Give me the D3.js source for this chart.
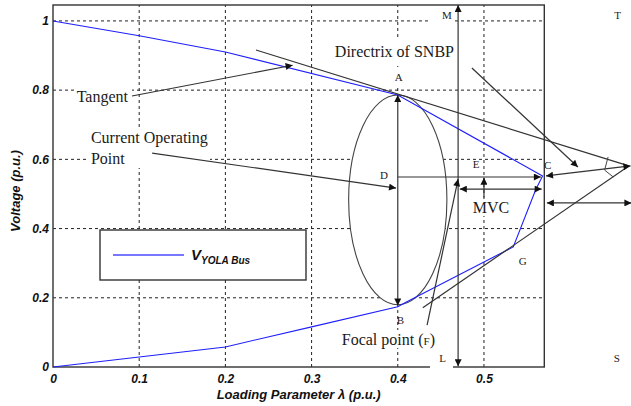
<!DOCTYPE html>
<html>
<head>
<meta charset="utf-8">
<script src="https://cdn.jsdelivr.net/npm/d3@7"></script>
<style>
  body { margin: 0; background: #fff; }
  .serif { font-family: "Liberation Serif", "Times New Roman", serif; fill: #1a1a1a; }
  .tick text { font-family: "Liberation Sans", Arial, sans-serif; font-size: 12px; font-weight: bold; font-style: italic; fill: #111; }
</style>
</head>
<body>
<div class="canvas"></div>
<script>
// PV curve of the YOLA bus (nose curve, upper branch then lower branch)
const lambda = [0, 0.1, 0.2, 0.4, 0.568, 0.56, 0.534, 0.41, 0.4, 0.3, 0.2, 0.1, 0];
const voltage = [1, 0.957, 0.91, 0.786, 0.552, 0.512, 0.347, 0.188, 0.174, 0.116, 0.058, 0.029, 0];

const xTicks = [0, 0.1, 0.2, 0.3, 0.4, 0.5];
const xTickLabels = ["0", "0.1", "0.2", "0.3", "0.4", "0.5"];
const yTicks = [0, 0.2, 0.4, 0.6, 0.8, 1];
const yTickLabels = ["0", "0.2", "0.4", "0.6", "0.8", "1"];

const dims = { width: 631, height: 406 };
const plot = { left: 53, right: 544.3, top: 5, bottom: 367 };

const svg = d3
  .select(".canvas")
  .append("svg")
  .attr("width", dims.width)
  .attr("height", dims.height);

const x = d3.scaleLinear().domain([0, 0.57]).range([plot.left, plot.right]);
const y = d3.scaleLinear().domain([0, 1.046]).range([plot.bottom, plot.top]);

// arrow head marker
svg
  .append("defs")
  .append("marker")
  .attr("id", "arrow")
  .attr("viewBox", "0 0 10 10")
  .attr("refX", 10)
  .attr("refY", 5)
  .attr("markerUnits", "userSpaceOnUse")
  .attr("markerWidth", 9)
  .attr("markerHeight", 7)
  .attr("orient", "auto-start-reverse")
  .append("path")
  .attr("d", "M0,0 L10,5 L0,10 z")
  .attr("fill", "#111");

// grid
const grid = svg.append("g").attr("stroke", "#222").attr("stroke-width", 1).attr("stroke-dasharray", "3,3");
grid
  .selectAll(".gx")
  .data(xTicks.slice(1))
  .enter()
  .append("line")
  .attr("x1", (d) => x(d))
  .attr("x2", (d) => x(d))
  .attr("y1", plot.bottom)
  .attr("y2", plot.top);
grid
  .selectAll(".gy")
  .data(yTicks.slice(1))
  .enter()
  .append("line")
  .attr("x1", plot.left)
  .attr("x2", plot.right)
  .attr("y1", (d) => y(d))
  .attr("y2", (d) => y(d));

// frame
svg
  .append("rect")
  .attr("x", plot.left)
  .attr("y", plot.top)
  .attr("width", plot.right - plot.left)
  .attr("height", plot.bottom - plot.top)
  .attr("fill", "none")
  .attr("stroke", "#333")
  .attr("stroke-width", 1.4);

// axes (labels only)
const xAxis = d3
  .axisBottom(x)
  .tickValues(xTicks)
  .tickSize(0)
  .tickPadding(7)
  .tickFormat((d, i) => xTickLabels[i]);
const yAxis = d3
  .axisLeft(y)
  .tickValues(yTicks)
  .tickSize(0)
  .tickPadding(4)
  .tickFormat((d, i) => yTickLabels[i]);

svg.append("g").attr("transform", `translate(0, ${plot.bottom})`).call(xAxis).call((g) => g.select(".domain").remove());
svg.append("g").attr("transform", `translate(${plot.left}, 0)`).call(yAxis).call((g) => g.select(".domain").remove());

svg
  .append("text")
  .attr("x", (plot.left + plot.right) / 2)
  .attr("y", 399)
  .attr("text-anchor", "middle")
  .attr("font-family", "Liberation Sans, Arial, sans-serif")
  .attr("font-size", 13)
  .attr("font-weight", "bold")
  .attr("font-style", "italic")
  .attr("fill", "#111")
  .text("Loading Parameter λ (p.u.)");

svg
  .append("text")
  .attr("transform", `translate(20, 191) rotate(-90)`)
  .attr("text-anchor", "middle")
  .attr("font-family", "Liberation Sans, Arial, sans-serif")
  .attr("font-size", 13)
  .attr("font-weight", "bold")
  .attr("font-style", "italic")
  .attr("fill", "#111")
  .text("Voltage (p.u.)");

// white boxes behind annotation texts (they hide the grid)
const boxes = [
  [74, 87, 58, 18],
  [86, 128, 124, 40],
  [330, 38, 126, 28],
  [390, 70, 18, 18],
  [430, 8, 24, 16],
  [430, 350, 23, 22],
  [468, 200, 44, 16],
  [338, 330, 96, 18],
];
svg
  .selectAll(".box")
  .data(boxes)
  .enter()
  .append("rect")
  .attr("x", (d) => d[0])
  .attr("y", (d) => d[1])
  .attr("width", (d) => d[2])
  .attr("height", (d) => d[3])
  .attr("fill", "#fff");

// ellipse round the A-B span
svg
  .append("ellipse")
  .attr("cx", x(0.4))
  .attr("cy", y(0.483))
  .attr("rx", x(0.457) - x(0.4))
  .attr("ry", y(0.18) - y(0.483))
  .attr("fill", "#fff")
  .attr("stroke", "#444")
  .attr("stroke-width", 1.1);

// the PV curve
const line = d3
  .line()
  .x((d, i) => x(lambda[i]))
  .y((d, i) => y(voltage[i]));

svg
  .append("path")
  .attr("d", line(lambda))
  .attr("fill", "none")
  .attr("stroke", "#1f1fff")
  .attr("stroke-width", 1.1);

// annotation lines: [x1, y1, x2, y2, arrow at start, arrow at end]
const apex = [0.668, 0.581];
const annotations = [
  [0.2355, 0.916, apex[0], apex[1], false, false], // tangent
  [apex[0], apex[1], 0.429, 0.171, false, false], // lower line through G
  [0.0916, 0.783, 0.278, 0.872, false, true], // tangent label
  [0.115, 0.618, 0.398, 0.517, false, true], // current operating point
  [0.486, 0.864, 0.609, 0.578, false, true], // directrix label
  [0.4, 0.786, 0.4, 0.178, true, true], // A-B
  [0.4, 0.549, 0.566, 0.549, false, true], // D-C
  [0.572, 0.552, apex[0] + 0.002, apex[1], true, true], // C-apex
  [0.47, 1.046, 0.47, 0.002, true, true], // M-L
  [0.434, 0.121, 0.47, 0.543, false, true], // focal point
  [0.5, 0.49, 0.5, 0.547, false, true], // E
  [0.472, 0.514, 0.567, 0.514, true, true], // MVC
  [0.573, 0.474, 0.671, 0.474, true, true], // right span
];

svg
  .append("g")
  .selectAll("line")
  .data(annotations)
  .enter()
  .append("line")
  .attr("x1", (d) => x(d[0]))
  .attr("y1", (d) => y(d[1]))
  .attr("x2", (d) => x(d[2]))
  .attr("y2", (d) => y(d[3]))
  .attr("stroke", "#333")
  .attr("stroke-width", 1.2)
  .attr("marker-start", (d) => (d[4] ? "url(#arrow)" : null))
  .attr("marker-end", (d) => (d[5] ? "url(#arrow)" : null));

// angle mark near the apex
const angleMark = [
  [0.644, 0.607],
  [0.64, 0.569],
  [0.65, 0.549],
];
svg
  .append("path")
  .attr("d", d3.line().x((d) => x(d[0])).y((d) => y(d[1]))(angleMark))
  .attr("fill", "none")
  .attr("stroke", "#444")
  .attr("stroke-width", 1);

// point letters
const letters = [
  ["A", 0.401, 0.838],
  ["B", 0.403, 0.136],
  ["C", 0.574, 0.584],
  ["D", 0.384, 0.555],
  ["E", 0.491, 0.587],
  ["G", 0.545, 0.306],
  ["M", 0.457, 1.017],
  ["L", 0.452, 0.026],
  ["T", 0.655, 1.017],
  ["S", 0.654, 0.026],
];
svg
  .selectAll(".letter")
  .data(letters)
  .enter()
  .append("text")
  .attr("class", "serif")
  .attr("x", (d) => x(d[1]))
  .attr("y", (d) => y(d[2]))
  .attr("dy", "0.35em")
  .attr("text-anchor", "middle")
  .attr("font-size", 11)
  .text((d) => d[0]);

// annotation texts
const notes = [
  ["Tangent", 0.0275, 0.783],
  ["Current Operating", 0.044, 0.664],
  ["Point", 0.044, 0.604],
  ["Directrix of SNBP", 0.327, 0.913],
  ["MVC", 0.487, 0.46],
];
svg
  .selectAll(".note")
  .data(notes)
  .enter()
  .append("text")
  .attr("class", "serif")
  .attr("x", (d) => x(d[1]))
  .attr("y", (d) => y(d[2]))
  .attr("dy", "0.35em")
  .attr("font-size", 16)
  .text((d) => d[0]);

const focal = svg
  .append("text")
  .attr("class", "serif")
  .attr("x", x(0.335))
  .attr("y", y(0.081))
  .attr("dy", "0.35em")
  .attr("font-size", 16);
focal.append("tspan").text("Focal point (");
focal.append("tspan").attr("font-size", 11).text("F");
focal.append("tspan").text(")");

// legend
const legend = svg.append("g");
legend
  .append("rect")
  .attr("x", 100)
  .attr("y", 230)
  .attr("width", 206)
  .attr("height", 50)
  .attr("fill", "#fff")
  .attr("stroke", "#333")
  .attr("stroke-width", 1.4);
legend
  .append("line")
  .attr("x1", 113)
  .attr("x2", 184)
  .attr("y1", 255)
  .attr("y2", 255)
  .attr("stroke", "#4a4aff")
  .attr("stroke-width", 1.5);
const legendText = legend
  .append("text")
  .attr("x", 191)
  .attr("y", 260)
  .attr("font-family", "Liberation Sans, Arial, sans-serif")
  .attr("font-style", "italic")
  .attr("font-weight", "bold")
  .attr("fill", "#111")
  .attr("font-size", 15);
legendText.append("tspan").text("V");
legendText.append("tspan").attr("font-size", 10).attr("dy", 4).text("YOLA Bus");
</script>
</body>
</html>
